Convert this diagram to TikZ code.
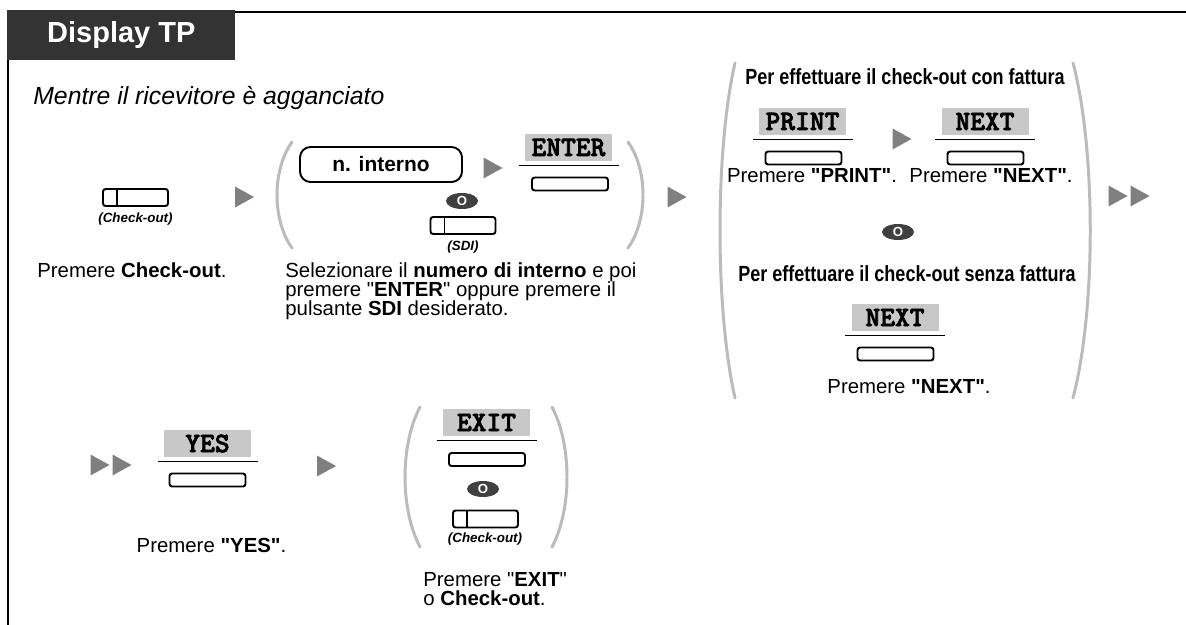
\documentclass[tikz,border=0pt]{standalone}
\usepackage{fontspec}
\usepackage{graphicx}
\setmainfont{Liberation Sans}
\newfontfamily\keyfont{lmmonolt10-bold}[Extension=.otf, FakeBold=2.5]
\usetikzlibrary{calc,shapes.geometric}
\definecolor{hdrgray}{HTML}{333333}
\definecolor{keygray}{HTML}{C8C8C8}
\definecolor{arrgray}{HTML}{808080}
\definecolor{pargray}{HTML}{BBBBBB}
\definecolor{orgray}{HTML}{404040}
\newcommand{\pxu}{0.02cm}
\newcommand{\qq}{\textquotedbl}
\tikzset{
  frame/.style={line width=1.1pt},
  hdrbox/.style={fill=hdrgray, text=white, minimum width={228*\pxu}, minimum height={50*\pxu}, inner sep=0pt, font=\fontsize{16.5pt}{18pt}\selectfont\bfseries},
  titletext/.style={inner sep=0pt, font=\fontsize{14.1pt}{16pt}\selectfont\itshape},
  body/.style={inner sep=0pt, font=\fontsize{11.6pt}{11pt}\selectfont},
  cond/.style={inner sep=0pt, font=\fontsize{12.5pt}{14pt}\selectfont\bfseries},
  keylabel/.style={fill=keygray, minimum width={87*\pxu}, minimum height={27*\pxu}, inner sep=0pt, font=\fontsize{16pt}{16pt}\keyfont},
  keyline/.style={line width=0.9pt},
  softbtn/.style={draw, fill=white, line width=1.1pt, rounded corners=1.5pt, minimum width={76*\pxu}, minimum height={13*\pxu}, inner sep=0pt},
  fbtn/.style={draw, fill=white, line width=1.1pt, rounded corners=1.5pt, minimum width={65*\pxu}, minimum height={17*\pxu}, inner sep=0pt,
    path picture={\draw[line width=1.1pt] ([xshift={14*\pxu}]path picture bounding box.north west) -- ([xshift={14*\pxu}]path picture bounding box.south west);}},
  btnlabel/.style={inner sep=0pt, font=\fontsize{7.6pt}{8pt}\selectfont\bfseries\itshape},
  numbox/.style={draw, line width=1.1pt, rounded corners=6pt, minimum width={162*\pxu}, minimum height={35*\pxu}, inner sep=0pt, font=\fontsize{11.9pt}{12pt}\selectfont\bfseries},
  orn/.style={ellipse, fill=orgray, text=white, minimum width={32*\pxu}, minimum height={16*\pxu}, inner sep=0pt, font=\fontsize{7.5pt}{8pt}\selectfont\bfseries},
  paren/.style={draw=pargray, line width=1.7pt, line cap=round},
  tri/.pic={\fill[arrgray] (-9.5,-10.5) -- (9.5,0) -- (-9.5,10.5) -- cycle;}
}
\begin{document}
\begin{tikzpicture}[x=0.02cm, y=-0.02cm]
\useasboundingbox (0,0) rectangle (1186,625);
% frame and header
\coordinate (fb) at (8,625);
\coordinate (fc) at (8,12);
\coordinate (fr) at (1186,12);
\draw[frame] (fb) -- (fc) -- (fr);
\node[hdrbox, anchor=north west] (hdr) at (7,10) {Display TP};
\node[titletext, anchor=base west] (title) at (33,105) {Mentre il ricevitore è agganciato};

% step 1
\node[fbtn] (co1) at (135.5,197.5) {};
\node[btnlabel, anchor=base] (co1l) at (135.5,222) {(Check-out)};
\pic at (244.5,197) {tri};
\node[body, anchor=base west] (t1) at (37,277) {Premere \textbf{Check-out}.};

% step 2
\draw[paren] (292,142) .. controls (272,170) and (272,220) .. (292,248);
\draw[paren] (628,142) .. controls (648,170) and (648,220) .. (628,248);
\node[numbox] (ext) at (381,164.5) {n. interno};
\pic at (493,168) {tri};
\node[keylabel] (enterk) at (568.5,147.5) {ENTER};
\draw[keyline] ($(enterk.south)+(-50,4)$) -- ($(enterk.south)+(50,4)$);
\node[softbtn] (enterb) at (570,184) {};
\node[orn] (or1) at (462,201) {O};
\node[fbtn] (sdi) at (463,225.5) {};
\node[btnlabel, anchor=base] (sdil) at (463,250) {(SDI)};
\node[body, anchor=north west, align=left] (t2) at (285,262) {Selezionare il \textbf{numero di interno} e poi\\premere \qq\textbf{ENTER}\qq\ oppure premere il\\pulsante \textbf{SDI} desiderato.};
\pic at (677,197) {tri};

% step 3
\draw[paren] (735,63) .. controls (715,150) and (715,310) .. (735,398);
\draw[paren] (1073,63) .. controls (1096,150) and (1096,310) .. (1073,398);
\node[cond, anchor=base] (c1) at (905,85) {\scalebox{0.82}[1]{Per effettuare il check-out con fattura}};
\node[keylabel] (printk) at (802.5,121.5) {PRINT};
\draw[keyline] ($(printk.south)+(-50,4)$) -- ($(printk.south)+(50,4)$);
\node[softbtn] (printb) at (803.5,158) {};
\pic at (902,139) {tri};
\node[keylabel] (nextk) at (985,121.5) {NEXT};
\draw[keyline] ($(nextk.south)+(-50,4)$) -- ($(nextk.south)+(50,4)$);
\node[softbtn] (nextb) at (985.5,158) {};
\node[body, anchor=base] (t3a) at (812,182) {Premere \textbf{\qq PRINT\qq}.};
\node[body, anchor=base] (t3b) at (991,182) {Premere \textbf{\qq NEXT\qq}.};
\node[orn] (or2) at (898,232) {O};
\node[cond, anchor=base] (c2) at (907,281) {\scalebox{0.82}[1]{Per effettuare il check-out senza fattura}};
\node[keylabel] (next2k) at (895,317.5) {NEXT};
\draw[keyline] ($(next2k.south)+(-50,4)$) -- ($(next2k.south)+(50,4)$);
\node[softbtn] (next2b) at (895.5,354) {};
\node[body, anchor=base] (t3c) at (909,393) {Premere \textbf{\qq NEXT\qq}.};
\pic at (1118,196) {tri};
\pic at (1140,196) {tri};

% step 4
\pic at (100,465) {tri};
\pic at (122,465) {tri};
\node[keylabel] (yesk) at (207.5,443.5) {YES};
\draw[keyline] ($(yesk.south)+(-50,4)$) -- ($(yesk.south)+(50,4)$);
\node[softbtn] (yesb) at (207.5,480) {};
\node[body, anchor=base] (t4) at (211.5,552) {Premere \textbf{\qq YES\qq}.};
\pic at (326.5,466) {tri};

% step 5
\draw[paren] (420,407) .. controls (400,445) and (400,509) .. (420,547);
\draw[paren] (552,407) .. controls (572,445) and (572,509) .. (552,547);
\node[keylabel] (exitk) at (486.5,422.5) {EXIT};
\draw[keyline] ($(exitk.south)+(-50,4)$) -- ($(exitk.south)+(50,4)$);
\node[softbtn] (exitb) at (487,459.5) {};
\node[orn] (or3) at (483,489) {O};
\node[fbtn] (co2) at (485.5,519) {};
\node[btnlabel, anchor=base] (co2l) at (485,542) {(Check-out)};
\node[body, anchor=north west, align=left] (t5) at (423,572) {Premere \qq\textbf{EXIT}\qq\\o \textbf{Check-out}.};
\end{tikzpicture}
\end{document}
